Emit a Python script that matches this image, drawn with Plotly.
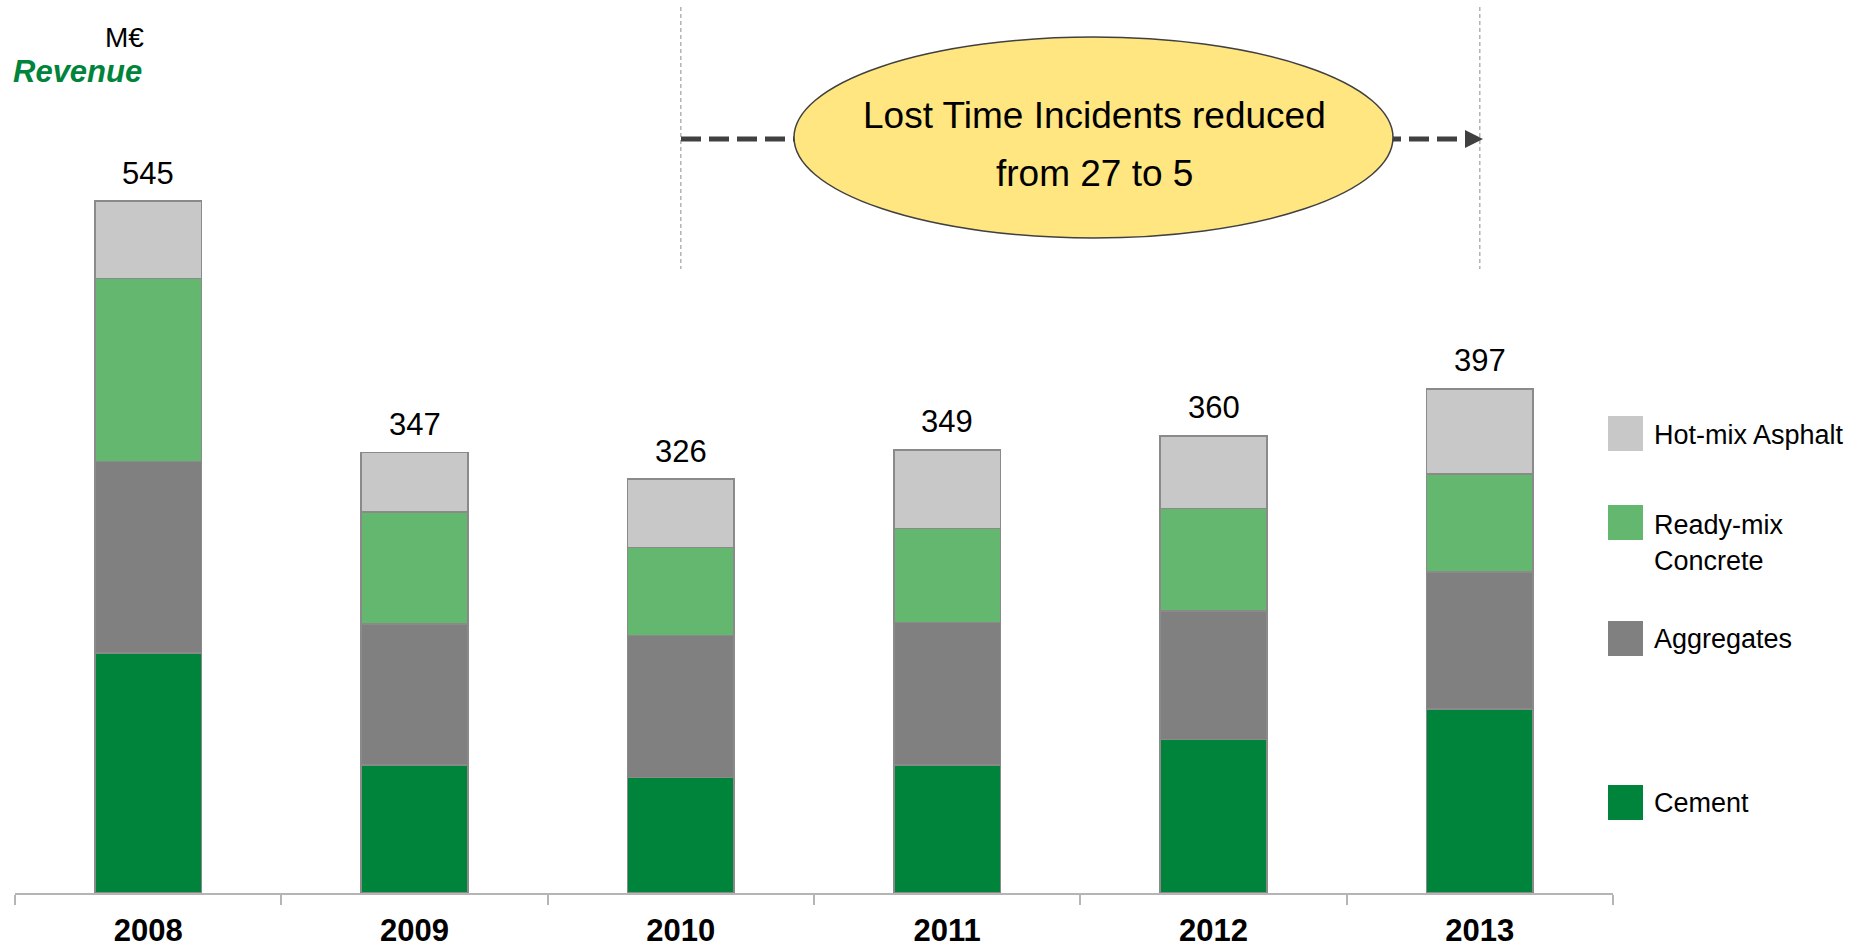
import plotly.graph_objects as go

years = ["2008", "2009", "2010", "2011", "2012", "2013"]
cement = [189, 101, 91, 101, 121, 145]
aggregates = [151, 111, 112, 112, 101, 108]
readymix = [144, 88, 69, 74, 81, 77]
hotmix = [61, 47, 54, 62, 57, 67]
totals = [545, 347, 326, 349, 360, 397]

series_names = ["Cement", "Aggregates", "Ready-mix<br>Concrete", "Hot-mix Asphalt"]
series_vals = [cement, aggregates, readymix, hotmix]
colors = ["#00843C", "#808080", "#63B76F", "#C8C8C8"]

W, H = 1864, 948
ML, MR, MT, MB = 15, 251, 0, 55
PW = W - ML - MR
PH = H - MT - MB
PX_PER_UNIT = 692 / 545.0
YMAX = PH / PX_PER_UNIT


def px(p):
    return (p - ML) / PW


def py(p):
    return (H - MB - p) / PH


FONT = "Liberation Sans, Arial, sans-serif"

fig = go.Figure()
for name, vals, col in zip(series_names, series_vals, colors):
    fig.add_trace(go.Bar(
        x=years, y=vals, name=name,
        marker=dict(color=col, line=dict(color="#8A8A8A", width=1.5)),
        showlegend=False, hoverinfo="y+name",
    ))

annotations = []
for i, t in enumerate(totals):
    annotations.append(dict(
        x=i, y=t, xref="x", yref="y", text=str(t), showarrow=False,
        yanchor="middle", yshift=28, font=dict(family=FONT, size=31, color="#000")))

# Unit and title
annotations.append(dict(x=px(146), y=py(38), xref="paper", yref="paper", text="M€",
                        showarrow=False, xanchor="right", yanchor="middle",
                        font=dict(family=FONT, size=28, color="#000")))
annotations.append(dict(x=px(11), y=py(71), xref="paper", yref="paper", text="<b><i>Revenue</i></b>",
                        showarrow=False, xanchor="left", yanchor="middle",
                        font=dict(family=FONT, size=31, color="#00843C")))

# Ellipse texts
annotations.append(dict(x=px(1094), y=py(116), xref="paper", yref="paper",
                        text="Lost Time Incidents reduced", showarrow=False,
                        xanchor="center", yanchor="middle",
                        font=dict(family=FONT, size=37, color="#000")))
annotations.append(dict(x=px(1094), y=py(174), xref="paper", yref="paper",
                        text="from 27 to 5", showarrow=False,
                        xanchor="center", yanchor="middle",
                        font=dict(family=FONT, size=37, color="#000")))

shapes = []
# vertical dashed lines at 2010 and 2013
for xi in [2, 5]:
    shapes.append(dict(type="line", xref="x", yref="paper", x0=xi, x1=xi,
                       y0=py(7), y1=py(269),
                       line=dict(color="#A0A0A0", width=1.2, dash="4px,3px")))
# dashed arrow
shapes.append(dict(type="line", xref="paper", yref="paper", x0=px(681), x1=px(1468),
                   y0=py(139), y1=py(139),
                   line=dict(color="#404040", width=5, dash="20px,8px")))
shapes.append(dict(type="path", xref="paper", yref="paper",
                   path=f"M {px(1465)} {py(130)} L {px(1483)} {py(139)} L {px(1465)} {py(148)} Z",
                   fillcolor="#404040", line=dict(color="#404040", width=0)))
# ellipse
shapes.append(dict(type="circle", xref="paper", yref="paper",
                   x0=px(794), x1=px(1393), y0=py(238), y1=py(37),
                   fillcolor="#FFE680", line=dict(color="#404040", width=1.5), layer="above"))

# manual legend
legend_items = [
    ("Hot-mix Asphalt", "#C8C8C8", 416, 435),
    (None, "#63B76F", 505, None),
    ("Aggregates", "#808080", 621, 639),
    ("Cement", "#00843C", 785, 803),
]
for label, col, top, ty in legend_items:
    shapes.append(dict(type="rect", xref="paper", yref="paper",
                       x0=px(1608), x1=px(1643), y0=py(top + 35), y1=py(top),
                       fillcolor=col, line=dict(width=0)))
    if label:
        annotations.append(dict(x=px(1652), y=py(ty), xref="paper", yref="paper",
                                text=label, showarrow=False, xanchor="left", yanchor="middle",
                                font=dict(family=FONT, size=27, color="#000")))
annotations.append(dict(x=px(1652), y=py(525), xref="paper", yref="paper",
                        text="Ready-mix", showarrow=False, xanchor="left", yanchor="middle",
                        font=dict(family=FONT, size=27, color="#000")))
annotations.append(dict(x=px(1652), y=py(561), xref="paper", yref="paper",
                        text="Concrete", showarrow=False, xanchor="left", yanchor="middle",
                        font=dict(family=FONT, size=27, color="#000")))

fig.update_layout(
    width=W, height=H,
    margin=dict(l=ML, r=MR, t=MT, b=MB, pad=0),
    barmode="stack", bargap=0.6,
    plot_bgcolor="white", paper_bgcolor="white",
    xaxis=dict(type="category", range=[-0.5, 5.5], tickson="boundaries",
               ticks="outside", ticklen=10, tickcolor="#B5B5B5", tickwidth=1.5,
               showline=True, linecolor="#B5B5B5", linewidth=1.5, showgrid=False,
               tickfont=dict(family=FONT, size=31, color="#000", weight="bold"),
               ticklabelstandoff=9),
    yaxis=dict(range=[0, YMAX], visible=False, showgrid=False),
    shapes=shapes, annotations=annotations,
)

fig.write_html("out.html")
